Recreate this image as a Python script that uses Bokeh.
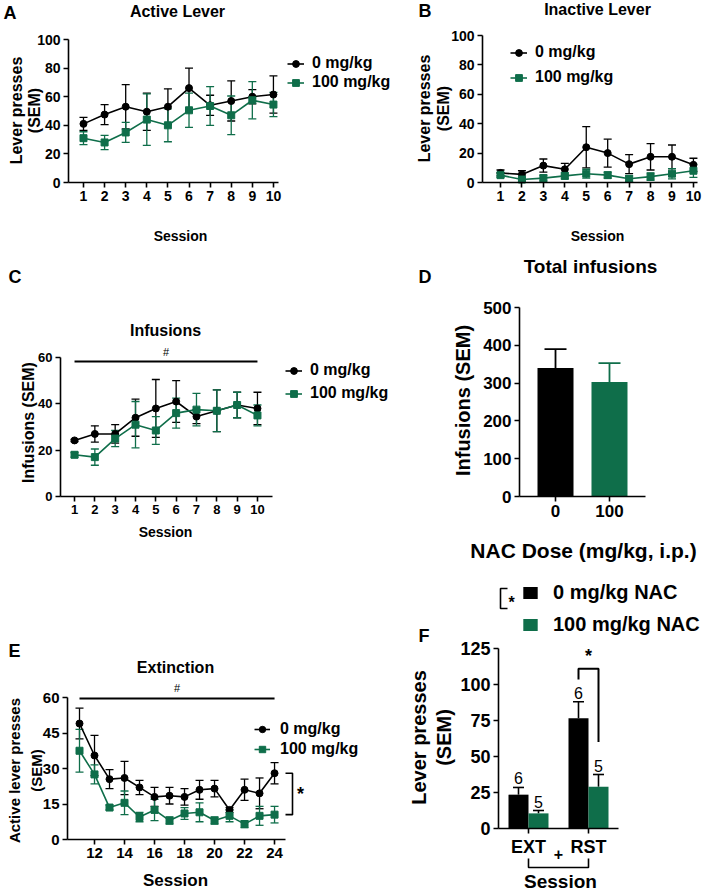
import numpy as np
from bokeh.plotting import figure
from bokeh.layouts import row, column
from bokeh.models import (ColumnDataSource, Whisker, TeeHead, Label, Legend, LegendItem,
                          Range1d, FixedTicker)
from bokeh.core.properties import value
from bokeh.embed import file_html
from bokeh.resources import INLINE

FONT = "Liberation Sans"
BLACK = "#000000"
GREEN = "#0f6e4a"

# ---------------- data ----------------
acq_sessions = [1, 2, 3, 4, 5, 6, 7, 8, 9, 10]
active_0 = [41, 47.5, 53, 49.5, 53, 66, 54, 57, 60, 61.5]
active_0_sem = [4.5, 7, 15.5, 13, 12.5, 14, 7, 14, 5, 13]
active_100 = [31, 28, 35, 44, 40, 50.5, 53.5, 47, 57.5, 54.5]
active_100_sem = [4.5, 5, 7, 18, 11.5, 12, 13.5, 13.5, 13, 8.5]

inactive_0 = [6.5, 5.5, 11.5, 9, 24, 20, 12.5, 17.5, 17.5, 12]
inactive_0_sem = [2, 2.5, 4.5, 4, 14, 9.5, 6.5, 9, 8, 4.5]
inactive_100 = [5, 2, 3, 4.5, 6, 5, 2.5, 4, 6, 8]
inactive_100_sem = [1.5, 1, 2, 2, 3, 2, 2, 2.5, 3.5, 4.5]

inf_0 = [24.2, 27, 27, 34, 38, 41, 34.5, 37, 39.5, 38]
inf_0_sem = [0.5, 3.5, 4, 8, 12.5, 9, 3, 9, 5.5, 7]
inf_100 = [18, 17, 25, 31, 28.5, 36, 37.5, 37, 39.5, 35]
inf_100_sem = [1, 3.5, 3.5, 10, 6, 6.5, 7, 9, 5.5, 4.5]
inf_hash_level = 58.3

doses = ["0", "100"]
total_inf = [340, 303]
total_inf_sem = [50, 50]

ext_sessions = [11, 12, 13, 14, 15, 16, 17, 18, 19, 20, 21, 22, 23, 24]
ext_0 = [49, 35.5, 25.5, 26, 22, 18, 18.5, 18, 21, 21.5, 12.5, 21, 19.5, 28]
ext_0_sem = [6.5, 8.5, 4, 7, 3, 4, 3.5, 3.5, 4, 3.5, 1, 4.5, 6.5, 4.5]
ext_100 = [37.5, 27.5, 13.5, 15.5, 9.5, 12.5, 8, 11, 11.5, 8, 10, 6.5, 10, 10.5]
ext_100_sem = [9, 4, 1, 5, 2, 4.5, 1.5, 2.5, 4, 1.5, 2.5, 1.5, 4, 3.5]
ext_hash_level = 59.6

f_sessions = ["EXT", "RST"]
f_0 = [23.5, 76.5]
f_0_sem = [5, 11.5]
f_100 = [10.5, 29]
f_100_sem = [2, 8.5]
f_n_0 = [6, 6]
f_n_100 = [5, 5]
f_sig_top = 111
f_sig_left = 103.5
f_sig_right = 60

ROT = np.pi / 2


# ---------------- helpers ----------------
class Panel:
    """A figure whose frame is its whole canvas; axes are placed with fixed_location/bounds."""

    def __init__(self, origin, size, axbox, xdom, ydom, tick_size, xticks, yticks, xlabels=None):
        L, R, T, B = axbox
        ox, oy = origin
        w, h = size
        x0, x1 = xdom
        y0, y1 = ydom
        self.ox, self.oy, self.w, self.h = ox, oy, w, h
        self.kx = (x1 - x0) / (R - L)
        self.ky = (y1 - y0) / (B - T)
        self.xs = x0 - (L - ox) * self.kx
        self.ys = y0 - (oy + h - B) * self.ky
        p = figure(width=w, height=h,
                   x_range=Range1d(self.xs, self.xs + w * self.kx),
                   y_range=Range1d(self.ys, self.ys + h * self.ky),
                   output_backend="svg", toolbar_location=None,
                   min_border=0, min_border_left=0, min_border_right=0,
                   min_border_top=0, min_border_bottom=0)
        p.title.visible = False
        p.outline_line_color = None
        p.xgrid.visible = False
        p.ygrid.visible = False
        p.background_fill_color = "white"
        p.border_fill_color = "white"
        p.xaxis.fixed_location = y0
        p.xaxis.bounds = (x0, x1)
        p.yaxis.fixed_location = x0
        p.yaxis.bounds = (y0, y1)
        p.xaxis.ticker = FixedTicker(ticks=list(xticks))
        p.yaxis.ticker = FixedTicker(ticks=list(yticks))
        if xlabels is not None:
            p.xaxis.major_label_overrides = xlabels
        for ax in p.axis:
            ax.axis_line_color = "black"
            ax.axis_line_width = 1.6
            ax.major_tick_line_color = "black"
            ax.major_tick_line_width = 1.6
            ax.major_tick_out = 5
            ax.major_tick_in = 0
            ax.minor_tick_out = 0
            ax.minor_tick_in = 0
            ax.major_label_standoff = 3
            ax.major_label_text_font = FONT
            ax.major_label_text_font_style = "bold"
            ax.major_label_text_font_size = f"{tick_size}px"
            ax.major_label_text_color = "black"
        self.p = p

    def dx(self, px):
        return self.xs + (px - self.ox) * self.kx

    def dy(self, py):
        return self.ys + (self.oy + self.h - py) * self.ky

    def text(self, px, py, s, size, bold=True, align="center", angle=0.0, baseline="middle"):
        self.p.add_layout(Label(x=px - self.ox, y=self.oy + self.h - py,
                                x_units="screen", y_units="screen", text=s,
                                text_font=FONT, text_font_size=f"{size}px",
                                text_font_style="bold" if bold else "normal",
                                text_align=align, text_baseline=baseline, angle=angle,
                                text_color="black"))

    def dlabel(self, x, y, s, size, bold=True, y_offset=0, baseline="middle"):
        self.p.add_layout(Label(x=x, y=y, y_offset=y_offset, text=s, text_font=FONT,
                                text_font_size=f"{size}px",
                                text_font_style="bold" if bold else "normal",
                                text_align="center", text_baseline=baseline,
                                text_color="black"))

    def path(self, pts, w=1.6):
        self.p.line([self.dx(a) for a, b in pts], [self.dy(b) for a, b in pts],
                    line_color="black", line_width=w)

    def legend(self, items, px, py_bottom, size, row_h, glyph_w, standoff, glyph_h=None):
        leg = Legend(items=[LegendItem(label=lbl, renderers=r) for lbl, r in items],
                     location=(px - self.ox, self.oy + self.h - py_bottom),
                     orientation="vertical",
                     glyph_width=glyph_w, glyph_height=glyph_h or row_h,
                     label_height=row_h, spacing=0, padding=0, margin=0,
                     label_standoff=standoff, border_line_color=None,
                     background_fill_alpha=0,
                     label_text_font=FONT, label_text_font_style="bold",
                     label_text_font_size=f"{size}px", label_text_color="black")
        self.p.add_layout(leg)


def series(p, x, y, sem, color, marker):
    y = np.array(y, float)
    s = np.array(sem, float)
    src = ColumnDataSource(dict(x=list(x), y=y, lo=y - s, hi=y + s))
    wk = Whisker(source=src, base="x", lower="lo", upper="hi",
                 line_color=color, line_width=1.3,
                 upper_head=TeeHead(size=8, line_color=color, line_width=1.3),
                 lower_head=TeeHead(size=8, line_color=color, line_width=1.3),
                 level="underlay")
    p.add_layout(wk)
    ln = p.line("x", "y", source=src, line_color=color, line_width=1.6)
    sc = p.scatter("x", "y", source=src, marker=marker, size=7,
                   fill_color=color, line_color=color)
    return [ln, sc]


# ---------------- Panel A ----------------
A = Panel((0, 0), (400, 255), (68, 278, 39, 182), (0.29, 10.24), (0, 100),
          14, acq_sessions, range(0, 101, 20))
a0 = series(A.p, acq_sessions, active_0, active_0_sem, BLACK, "circle")
a1 = series(A.p, acq_sessions, active_100, active_100_sem, GREEN, "square")
A.legend([("0 mg/kg", a0), ("100 mg/kg", a1)], 287, 91.5, 16, 19, 17, 8)
A.text(3, 12, "A", 18, align="left")
A.text(177, 11, "Active Lever", 16)
A.text(16, 110, "Lever presses", 16, angle=ROT)
A.text(34, 110, "(SEM)", 16, angle=ROT)
A.text(180, 235, "Session", 14)

# ---------------- Panel B ----------------
Bp = Panel((400, 0), (305, 255), (482, 697, 35, 182), (0.16, 10.19), (0, 100),
           14, acq_sessions, range(0, 101, 20))
b0 = series(Bp.p, acq_sessions, inactive_0, inactive_0_sem, BLACK, "circle")
b1 = series(Bp.p, acq_sessions, inactive_100, inactive_100_sem, GREEN, "square")
Bp.legend([("0 mg/kg", b0), ("100 mg/kg", b1)], 510, 89.5, 16, 25, 17, 8)
Bp.text(418, 10, "B", 18, align="left")
Bp.text(597, 9, "Inactive Lever", 16)
Bp.text(424, 108, "Lever presses", 16, angle=ROT)
Bp.text(443, 108, "(SEM)", 16, angle=ROT)
Bp.text(597, 235, "Session", 14)

# ---------------- Panel C ----------------
C = Panel((0, 255), (400, 385), (60, 272, 357, 496), (0.31, 10.74), (0, 60),
          13, acq_sessions, range(0, 61, 20))
C.p.line([acq_sessions[0], acq_sessions[-1]], [inf_hash_level, inf_hash_level],
         line_color="black", line_width=2)
C.dlabel((acq_sessions[0] + acq_sessions[-1]) / 2, inf_hash_level, "#", 11, bold=False,
         y_offset=3, baseline="bottom")
c0 = series(C.p, acq_sessions, inf_0, inf_0_sem, BLACK, "circle")
c1 = series(C.p, acq_sessions, inf_100, inf_100_sem, GREEN, "square")
C.legend([("0 mg/kg", c0), ("100 mg/kg", c1)], 285, 404.5, 16, 23, 17, 8)
C.text(8, 276, "C", 18, align="left")
C.text(165, 330, "Infusions", 16)
C.text(28, 422, "Infusions (SEM)", 16, angle=ROT)
C.text(165, 531, "Session", 14)

# ---------------- Panel D ----------------
dx = np.arange(len(doses)) + 0.5
D = Panel((400, 255), (305, 320), (519, 645, 307, 496), (-0.167, 2.167), (0, 500),
          17, dx, range(0, 501, 100), xlabels={float(x): d for x, d in zip(dx, doses)})
d_colors = [BLACK, GREEN]
for i in range(len(doses)):
    src = ColumnDataSource(dict(x=[dx[i]], top=[total_inf[i]],
                                hi=[total_inf[i] + total_inf_sem[i]]))
    D.p.add_layout(Whisker(source=src, base="x", lower="top", upper="hi",
                           line_color=d_colors[i], line_width=1.8,
                           upper_head=TeeHead(size=22, line_color=d_colors[i], line_width=1.8),
                           lower_head=None, level="underlay"))
    D.p.vbar(x="x", top="top", width=0.667, source=src, fill_color=d_colors[i],
             line_color=None)
D.text(418, 276, "D", 18, align="left")
D.text(590, 266, "Total infusions", 19)
D.text(462, 400, "Infusions (SEM)", 20, angle=ROT)
D.text(583, 550, "NAC Dose (mg/kg, i.p.)", 21)

# ---------------- Panel E ----------------
E = Panel((0, 640), (400, 251), (67, 285, 697, 839), (10.2, 24.73), (0, 60),
          15, range(12, 25, 2), range(0, 61, 15))
E.p.line([ext_sessions[0], ext_sessions[-1]], [ext_hash_level, ext_hash_level],
         line_color="black", line_width=2)
E.dlabel((ext_sessions[0] + ext_sessions[-1]) / 2, ext_hash_level, "#", 11, bold=False,
         y_offset=4, baseline="bottom")
e0 = series(E.p, ext_sessions, ext_0, ext_0_sem, BLACK, "circle")
e1 = series(E.p, ext_sessions, ext_100, ext_100_sem, GREEN, "square")
E.legend([("0 mg/kg", e0), ("100 mg/kg", e1)], 254, 759, 16, 20, 16, 10)
# bracket between the last-session means
xe0 = 24.73
xe1 = xe0 + 7 * E.kx
E.p.line([xe0, xe1, xe1, xe0], [ext_0[-1], ext_0[-1], ext_100[-1], ext_100[-1]],
         line_color="black", line_width=1.6)
E.dlabel(xe0 + 15 * E.kx, (ext_0[-1] + ext_100[-1]) / 2, "*", 18)
E.text(8, 650, "E", 18, align="left")
E.text(175, 667, "Extinction", 16)
E.text(14, 770, "Active lever presses", 15, angle=ROT)
E.text(36, 770, "(SEM)", 15, angle=ROT)
E.text(175, 880, "Session", 17)

# ---------------- Panel F ----------------
fx = np.arange(len(f_sessions)) + 0.5
F = Panel((400, 575), (305, 316), (498, 618, 648, 828), (0, 2), (0, 125),
          18, fx, range(0, 126, 25), xlabels={float(x): s for x, s in zip(fx, f_sessions)})
bw = 1 / 3
fx0 = fx - bw / 2
fx1 = fx + bw / 2
rF = []
for xs, m, s, n, col in [(fx0, f_0, f_0_sem, f_n_0, BLACK), (fx1, f_100, f_100_sem, f_n_100, GREEN)]:
    m = np.array(m, float)
    s = np.array(s, float)
    src = ColumnDataSource(dict(x=list(xs), top=m, hi=m + s, n=[str(v) for v in n]))
    F.p.add_layout(Whisker(source=src, base="x", lower="top", upper="hi",
                           line_color=BLACK, line_width=1.6,
                           upper_head=TeeHead(size=11, line_color=BLACK, line_width=1.6),
                           lower_head=None, level="underlay"))
    rF.append(F.p.vbar(x="x", top="top", width=bw, source=src, fill_color=col, line_color=None))
    F.p.text(x="x", y="hi", text="n", source=src, text_font=value(FONT),
             text_font_size="16px", text_align="center", text_baseline="bottom",
             y_offset=-3, text_color="black")
F.p.line([fx0[1], fx0[1], fx1[1], fx1[1]], [f_sig_left, f_sig_top, f_sig_top, f_sig_right],
         line_color="black", line_width=2)
F.dlabel(fx[1], f_sig_top, "*", 18, y_offset=3, baseline="bottom")
F.legend([("0 mg/kg NAC", [rF[0]]), ("100 mg/kg NAC", [rF[1]])], 521, 640, 20, 32, 18, 14,
         glyph_h=15)
# legend significance bracket
F.path([(507, 588), (500, 588), (500, 608), (507, 608)])
F.text(511, 602, "*", 16)
# session bracket under the axis
yb0 = F.dy(858)
yb1 = F.dy(867)
F.p.line([fx[0], fx[0], fx[1], fx[1]], [yb0, yb1, yb1, yb0], line_color="black", line_width=1.6)
F.dlabel((fx[0] + fx[1]) / 2, F.dy(853), "+", 16)
F.text(418, 635, "F", 18, align="left")
F.text(418, 737, "Lever presses", 20, angle=ROT)
F.text(443, 737, "(SEM)", 20, angle=ROT)
F.text(560, 881, "Session", 19)

layout = row(column(A.p, C.p, E.p), column(Bp.p, D.p, F.p))
open("out.html", "w").write(file_html(layout, INLINE))
